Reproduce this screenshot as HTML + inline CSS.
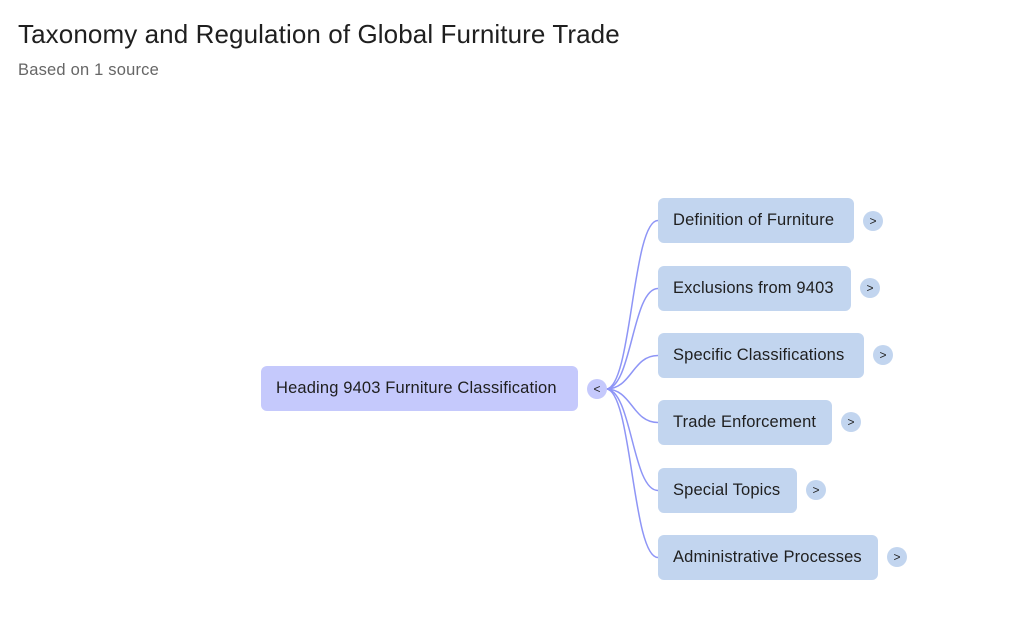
<!DOCTYPE html>
<html><head><style>
body{margin:0;width:1024px;height:624px;background:#fff;font-family:"Liberation Sans",sans-serif;position:relative;overflow:hidden}
.t{position:absolute;left:18px;top:19px;font-size:26px;letter-spacing:0.1px;color:#1f1f1f}
.s{position:absolute;left:18px;top:61px;font-size:16.5px;letter-spacing:0.2px;color:#666}
.n{position:absolute;height:45px;line-height:45px;border-radius:6px;background:#c2d5ef;color:#1f1f1f;font-size:16.5px;letter-spacing:0.15px;padding-left:15px;box-sizing:border-box}
.c{position:absolute;width:20px;height:20px;border-radius:50%;background:#c2d5ef;font-size:12px;text-align:center;line-height:20px;color:#222}
</style></head><body>
<div class="t">Taxonomy and Regulation of Global Furniture Trade</div>
<div class="s">Based on 1 source</div>
<svg width="1024" height="624" style="position:absolute;left:0;top:0">
<g fill="none" stroke="#8e95f6" stroke-width="1.5">
<path d="M606 389 C632 389 632 220.5 658 220.5"/>
<path d="M606 389 C632 389 632 288.5 658 288.5"/>
<path d="M606 389 C632 389 632 355.5 658 355.5"/>
<path d="M606 389 C632 389 632 422.5 658 422.5"/>
<path d="M606 389 C632 389 632 490.5 658 490.5"/>
<path d="M606 389 C632 389 632 557.5 658 557.5"/>
</g></svg>
<div class="n" style="left:261px;top:366px;width:317px;background:#c5c9fc">Heading 9403 Furniture Classification</div>
<div class="c" style="left:587px;top:379px;background:#c5c9fc">&lt;</div>
<div class="n" style="left:658px;top:198px;width:196px">Definition of Furniture</div><div class="c" style="left:863px;top:211px">&gt;</div>
<div class="n" style="left:658px;top:266px;width:193px">Exclusions from 9403</div><div class="c" style="left:860px;top:278px">&gt;</div>
<div class="n" style="left:658px;top:333px;width:206px">Specific Classifications</div><div class="c" style="left:873px;top:345px">&gt;</div>
<div class="n" style="left:658px;top:400px;width:174px">Trade Enforcement</div><div class="c" style="left:841px;top:412px">&gt;</div>
<div class="n" style="left:658px;top:468px;width:139px">Special Topics</div><div class="c" style="left:806px;top:480px">&gt;</div>
<div class="n" style="left:658px;top:535px;width:220px">Administrative Processes</div><div class="c" style="left:887px;top:547px">&gt;</div>
</body></html>
